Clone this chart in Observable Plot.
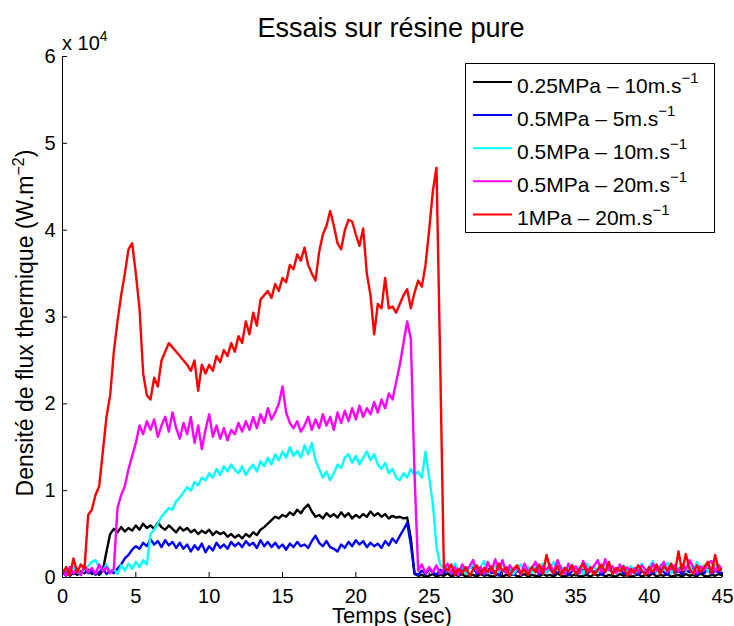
<!DOCTYPE html>
<html><head><meta charset="utf-8">
<script src="https://cdn.jsdelivr.net/npm/d3@7"></script>
<script src="https://cdn.jsdelivr.net/npm/@observablehq/plot@0.6"></script>
<style>body{margin:0;background:#fff}#chart{width:734px;height:626px;overflow:hidden}</style>
</head><body><div id="chart"></div>
<script>
// Sampling grid: 0 .. 45 s every 0.25 s (181 samples); values in units of 1e4 W.m^-2
const dt = 0.25;
const xTicks = [0,5,10,15,20,25,30,35,40,45];
const yTicks = [0,1,2,3,4,5,6];
const titleText = "Essais sur résine pure";
const xLabel = "Temps (sec)";
const yLabel = "Densité de flux thermique (W.m";
const seriesNames = ["0.25MPa – 10m.s","0.5MPa – 5m.s","0.5MPa – 10m.s","0.5MPa – 20m.s","1MPa – 20m.s"];
const seriesColors = ["#000000","#0000ff","#00ffff","#ff00ff","#ff0000"];

const black = [
0.04,0.08,0.02,0.06,0.03,0.07,0.05,0.09,0.04,0.06,0.03,0.08,0.3,0.5,0.56,0.52,0.58,0.53,0.57,0.54,
0.6,0.55,0.62,0.57,0.6,0.56,0.63,0.58,0.55,0.6,0.56,0.52,0.58,0.54,0.57,0.52,0.55,0.5,0.54,0.51,
0.55,0.49,0.53,0.5,0.52,0.47,0.5,0.46,0.49,0.45,0.5,0.47,0.52,0.49,0.55,0.58,0.62,0.66,0.7,0.68,
0.72,0.7,0.75,0.72,0.78,0.74,0.8,0.84,0.76,0.7,0.72,0.68,0.74,0.7,0.73,0.69,0.75,0.7,0.74,0.68,
0.72,0.69,0.73,0.7,0.76,0.71,0.74,0.7,0.73,0.68,0.71,0.69,0.7,0.68,0.69,0.45,0.04,0.02,0.03,0.01,
0.02,0.04,0.01,0.03,0.02,0.05,0.01,0.03,0.02,0.04,0.01,0.02,0.03,0.01,0.04,0.02,0.03,0.01,0.02,0.04,
0.01,0.03,0.02,0.05,0.01,0.02,0.04,0.01,0.03,0.02,0.01,0.04,0.02,0.03,0.01,0.05,0.02,0.01,0.03,0.02,
0.04,0.01,0.02,0.03,0.01,0.04,0.02,0.05,0.01,0.03,0.02,0.01,0.04,0.02,0.03,0.01,0.02,0.04,0.01,0.03,
0.02,0.05,0.01,0.03,0.02,0.04,0.01,0.02,0.03,0.01,0.04,0.02,0.03,0.01,0.05,0.02,0.01,0.03,0.02,0.04,
0.02];
const blue = [
0.06,0.02,0.09,0.04,0.07,0.03,0.1,0.05,0.08,0.03,0.06,0.11,0.04,0.08,0.05,0.1,0.15,0.22,0.26,0.32,
0.36,0.33,0.4,0.36,0.44,0.38,0.42,0.35,0.43,0.37,0.41,0.34,0.4,0.33,0.38,0.3,0.37,0.32,0.39,0.29,
0.36,0.31,0.4,0.34,0.38,0.33,0.41,0.36,0.4,0.35,0.42,0.37,0.4,0.34,0.43,0.36,0.41,0.35,0.4,0.34,
0.38,0.32,0.39,0.35,0.41,0.36,0.38,0.34,0.42,0.48,0.4,0.36,0.42,0.35,0.33,0.3,0.38,0.34,0.41,0.36,
0.43,0.38,0.42,0.35,0.4,0.36,0.39,0.34,0.42,0.37,0.45,0.4,0.48,0.55,0.63,0.38,0.05,0.03,0.08,0.04,
0.1,0.06,0.03,0.09,0.05,0.12,0.04,0.07,0.02,0.09,0.06,0.11,0.12,0.04,0.08,0.03,0.1,0.05,0.07,0.02,
0.09,0.06,0.11,0.03,0.08,0.05,0.1,0.04,0.07,0.12,0.03,0.09,0.06,0.1,0.04,0.08,0.05,0.11,0.03,0.07,
0.12,0.05,0.09,0.04,0.08,0.06,0.1,0.03,0.07,0.11,0.05,0.09,0.12,0.04,0.08,0.06,0.1,0.03,0.07,0.05,
0.09,0.04,0.08,0.11,0.06,0.03,0.1,0.05,0.08,0.04,0.09,0.06,0.11,0.03,0.07,0.05,0.1,0.04,0.08,0.06,
0.05];
const cyan = [
0.05,0.1,0.03,0.12,0.06,0.04,0.09,0.13,0.18,0.2,0.12,0.08,0.15,0.06,0.1,0.04,0.14,0.08,0.16,0.1,
0.18,0.12,0.2,0.15,0.5,0.55,0.62,0.7,0.75,0.8,0.78,0.88,0.92,0.98,1.04,1.0,1.1,1.06,1.15,1.12,
1.2,1.15,1.25,1.18,1.28,1.22,1.3,1.24,1.2,1.28,1.18,1.25,1.3,1.22,1.34,1.28,1.38,1.3,1.42,1.35,
1.45,1.38,1.5,1.4,1.46,1.38,1.52,1.42,1.55,1.35,1.25,1.15,1.22,1.12,1.2,1.3,1.26,1.38,1.42,1.32,
1.4,1.3,1.38,1.45,1.35,1.42,1.3,1.25,1.32,1.2,1.25,1.15,1.12,1.2,1.15,1.25,1.18,1.22,1.15,1.45,
1.15,0.85,0.35,0.15,0.1,0.12,0.05,0.16,0.08,0.13,0.04,0.1,0.15,0.07,0.12,0.19,0.05,0.11,0.14,0.06,
0.17,0.09,0.13,0.04,0.1,0.15,0.07,0.12,0.05,0.14,0.09,0.16,0.06,0.11,0.18,0.08,0.13,0.05,0.1,0.15,
0.07,0.12,0.04,0.16,0.09,0.13,0.06,0.11,0.15,0.08,0.12,0.05,0.1,0.14,0.07,0.13,0.04,0.11,0.16,0.08,
0.12,0.19,0.06,0.14,0.09,0.17,0.05,0.12,0.1,0.15,0.08,0.13,0.06,0.18,0.1,0.14,0.07,0.12,0.16,0.09,
0.11];
const magenta = [
0.08,0.02,0.12,0.05,0.1,0.03,0.14,0.06,0.11,0.04,0.15,0.07,0.12,0.05,0.1,0.8,0.95,1.05,1.25,1.4,
1.55,1.75,1.65,1.8,1.7,1.82,1.62,1.75,1.85,1.68,1.9,1.72,1.6,1.78,1.65,1.85,1.55,1.75,1.48,1.7,
1.88,1.62,1.75,1.6,1.72,1.58,1.7,1.65,1.78,1.68,1.8,1.7,1.85,1.72,1.88,1.78,1.95,1.82,1.9,2.0,
2.2,1.9,1.78,1.72,1.8,1.68,1.75,1.85,1.7,1.82,1.72,1.88,1.75,1.85,1.7,1.9,1.78,1.92,1.8,1.95,
1.82,1.98,1.85,1.95,1.88,2.02,1.9,2.05,1.95,2.12,2.05,2.25,2.45,2.7,2.95,2.75,1.2,0.08,0.15,0.05,
0.12,0.06,0.14,0.04,0.1,0.16,0.05,0.12,0.03,0.15,0.08,0.13,0.2,0.06,0.12,0.04,0.18,0.07,0.21,0.09,
0.2,0.05,0.14,0.08,0.12,0.03,0.16,0.07,0.11,0.18,0.05,0.13,0.09,0.15,0.06,0.2,0.1,0.04,0.16,0.08,
0.13,0.05,0.19,0.1,0.07,0.14,0.2,0.06,0.21,0.09,0.13,0.05,0.15,0.08,0.12,0.04,0.11,0.06,0.14,0.09,
0.05,0.16,0.08,0.12,0.18,0.06,0.11,0.14,0.07,0.15,0.09,0.2,0.12,0.05,0.13,0.08,0.16,0.19,0.07,0.14,
0.09];
const red = [
0.05,0.12,0.03,0.22,0.06,0.15,0.1,0.72,0.78,0.95,1.05,1.45,1.85,2.1,2.6,2.95,3.25,3.5,3.78,3.85,
3.5,3.1,2.35,2.1,2.05,2.3,2.2,2.5,2.6,2.7,2.65,2.6,2.55,2.5,2.45,2.38,2.5,2.15,2.45,2.35,
2.45,2.38,2.55,2.48,2.62,2.55,2.7,2.6,2.78,2.7,2.95,2.8,3.05,2.9,3.2,3.25,3.3,3.22,3.38,3.3,
3.45,3.4,3.6,3.55,3.72,3.65,3.8,3.6,3.5,3.42,3.75,3.95,4.05,4.22,4.05,3.85,3.78,4.0,4.12,4.1,
3.95,3.82,4.02,3.5,3.25,2.8,3.15,3.1,3.45,3.1,3.12,3.05,3.15,3.25,3.32,3.1,3.28,3.42,3.35,3.6,
4.0,4.45,4.72,2.5,0.12,0.08,0.15,0.03,0.1,0.05,0.12,0.02,0.09,0.14,0.04,0.11,0.06,0.13,0.03,0.16,
0.07,0.12,0.02,0.1,0.14,0.05,0.09,0.03,0.12,0.06,0.15,0.04,0.26,0.1,0.05,0.13,0.03,0.11,0.07,0.14,
0.04,0.1,0.16,0.05,0.12,0.03,0.09,0.15,0.06,0.18,0.04,0.11,0.07,0.13,0.02,0.1,0.05,0.14,0.08,0.03,
0.12,0.06,0.15,0.04,0.13,0.08,0.16,0.05,0.3,0.07,0.27,0.1,0.04,0.14,0.06,0.12,0.18,0.05,0.26,0.08,
0.1];

const allSeries = [black, blue, cyan, magenta, red];
const toRows = vals => vals.map((v, i) => ({t: i * dt, v}));

const F = "'Liberation Sans', Arial, Helvetica, sans-serif";

const plot = Plot.plot({
  width: 734, height: 626,
  marginLeft: 62, marginRight: 12, marginTop: 56, marginBottom: 49,
  style: {fontFamily: F, fontSize: "20px", background: "#fff", color: "#000"},
  x: {domain: [0, 45]},
  y: {domain: [0, 6]},
  marks: [
    Plot.axisX(xTicks, {tickSize: 0, tickPadding: 11, label: null, fontSize: 20, tickFormat: d3.format("d")}),
    Plot.axisY(yTicks, {tickSize: 0, tickPadding: 7, label: null, fontSize: 20, tickFormat: d3.format("d")}),
    Plot.tickX(xTicks, {x: d => d, insetTop: 516, stroke: "#000"}),
    Plot.tickY(yTicks, {y: d => d, insetRight: 655, stroke: "#000"}),
    ...allSeries.map((vals, k) => Plot.line(toRows(vals), {x: "t", y: "v", stroke: seriesColors[k], strokeWidth: 2.4, clip: true})),
    Plot.ruleX([0], {stroke: "#000"}),
    Plot.ruleY([0], {stroke: "#000"})
  ]
});
document.getElementById("chart").appendChild(plot);

const svg = d3.select(plot);
// title
svg.append("text").attr("x", 391).attr("y", 37).attr("text-anchor", "middle")
  .attr("font-family", F).attr("font-size", 27).attr("fill", "#000").text(titleText);
// x label
svg.append("text").attr("x", 392).attr("y", 623).attr("text-anchor", "middle")
  .attr("font-family", F).attr("font-size", 22).attr("fill", "#000").text(xLabel);
// y label
const yl = svg.append("text").attr("transform", "translate(33,323) rotate(-90)").attr("text-anchor", "middle")
  .attr("font-family", F).attr("font-size", 23).attr("fill", "#000");
yl.append("tspan").text(yLabel);
yl.append("tspan").attr("font-size", 16).attr("dy", -9).text("−2");
yl.append("tspan").attr("dy", 9).text(")");
// exponent
const ex = svg.append("text").attr("x", 62).attr("y", 50).attr("text-anchor", "start")
  .attr("font-family", F).attr("font-size", 20).attr("fill", "#000");
ex.append("tspan").text("x 10");
ex.append("tspan").attr("font-size", 14).attr("dy", -9).text("4");
// legend
const lg = svg.append("g");
lg.append("rect").attr("x", 465.5).attr("y", 63.5).attr("width", 249).attr("height", 169)
  .attr("fill", "#fff").attr("stroke", "#000").attr("stroke-width", 1);
seriesNames.forEach((name, k) => {
  const cy = 82 + k * 33.1;
  lg.append("line").attr("x1", 473).attr("x2", 512).attr("y1", cy).attr("y2", cy)
    .attr("stroke", seriesColors[k]).attr("stroke-width", 2);
  const t = lg.append("text").attr("x", 517).attr("y", cy + 11).attr("text-anchor", "start")
    .attr("font-family", F).attr("font-size", 21).attr("fill", "#000");
  t.append("tspan").text(name);
  t.append("tspan").attr("font-size", 15).attr("dy", -10).text("−1");
});
</script></body></html>
